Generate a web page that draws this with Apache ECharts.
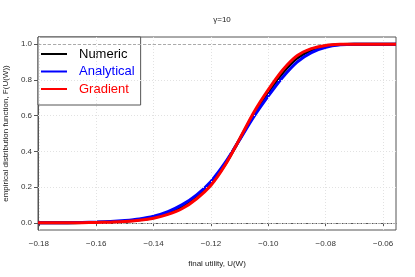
<!DOCTYPE html>
<html>
<head>
<meta charset="utf-8">
<script src="https://cdn.jsdelivr.net/npm/echarts@6/dist/echarts.min.js"></script>
<style>
html,body{margin:0;padding:0;background:#fff;}
#chart{width:415px;height:277px;}
</style>
</head>
<body>
<div id="chart"></div>
<script>
var titleText = "γ=10";
var xTitle = "final utility, U(W)";
var yTitle = "empirical distribution function, F(U(W))";
var xTicks = [-0.18, -0.16, -0.14, -0.12, -0.10, -0.08, -0.06];
var yTicks = [0, 0.2, 0.4, 0.6, 0.8, 1.0];
var refLines = [0, 1];
var utility = [-0.1803, -0.175, -0.17, -0.165, -0.16, -0.155, -0.15, -0.145, -0.14, -0.135, -0.13, -0.125, -0.12, -0.115, -0.11, -0.105, -0.10, -0.095, -0.09, -0.085, -0.08, -0.075, -0.07, -0.065, -0.06, -0.0555];
var numeric =    [0, 0.0003, 0.0007, 0.0013, 0.0027, 0.005, 0.009, 0.017, 0.030, 0.053, 0.088, 0.143, 0.218, 0.330, 0.468, 0.610, 0.732, 0.840, 0.922, 0.967, 0.989, 0.998, 1, 1, 1, 1];
var analytical = [0, 0.0004, 0.001, 0.002, 0.004, 0.007, 0.013, 0.022, 0.037, 0.063, 0.102, 0.157, 0.232, 0.338, 0.465, 0.595, 0.710, 0.815, 0.900, 0.953, 0.982, 0.996, 1, 1, 1, 1];
var gradient =   [0, 0.0002, 0.0005, 0.001, 0.002, 0.004, 0.007, 0.014, 0.026, 0.047, 0.080, 0.135, 0.210, 0.325, 0.470, 0.620, 0.745, 0.855, 0.935, 0.975, 0.993, 0.999, 1, 1, 1, 1];
var seriesNames = ["Numeric", "Analytical", "Gradient"];
var seriesColors = ["#000000", "#0000ff", "#ff0000"];

function pairs(ys){ return utility.map(function(x,i){ return [x, ys[i]]; }); }
var FONT = "Liberation Sans";
var chart = echarts.init(document.getElementById('chart'), null, {renderer:'canvas'});
var gridMarks = [];
xTicks.forEach(function(v){ gridMarks.push({xAxis:v}); });
yTicks.forEach(function(v){ gridMarks.push({yAxis:v}); });
var refMarks = refLines.map(function(v){ return {yAxis:v}; });

var lines = [numeric, analytical, gradient].map(function(d,i){
  return {
    name: seriesNames[i], type:'line', data: pairs(d), showSymbol:false, symbol:'none',
    smooth: 0.3, color: seriesColors[i], lineStyle:{width:3, color: seriesColors[i]}, z: 3+i, animation:false
  };
});

chart.setOption({
  animation:false,
  backgroundColor:'#fff',
  textStyle:{fontFamily:FONT},
  title:{text:titleText, left:217, top:11, textAlign:'center',
    textStyle:{fontSize:8, fontWeight:'normal', color:'#222', fontFamily:FONT}},
  grid:{left:38, top:37, right:19, bottom:47, show:true, borderColor:'#555', borderWidth:1,
    containLabel:false, outerBoundsMode:'none'},
  legend:{
    data: seriesNames.map(function(n,i){ return {name:n, textStyle:{color:seriesColors[i]}}; }),
    orient:'vertical', left:38, top:37, icon:'rect', itemWidth:26, itemHeight:2,
    itemGap:3.5, padding:[10,6,9,3], backgroundColor:'#fff', borderColor:'#555', borderWidth:1,
    textStyle:{fontSize:13, fontFamily:FONT, lineHeight:14, padding:[0,0,0,7]}, selectedMode:false
  },
  xAxis:{
    type:'value', min:-0.1803, max:-0.0555,
    name:xTitle, nameLocation:'middle', nameGap:30,
    nameTextStyle:{fontSize:8, color:'#222', fontFamily:FONT},
    axisLine:{show:true, lineStyle:{color:'#555', width:1}},
    axisTick:{show:true, length:4, lineStyle:{color:'#555'}, customValues:xTicks},
    axisLabel:{fontSize:8, color:'#333', margin:10, customValues:xTicks,
      formatter:function(v){ return (v<0?'\u2212':'') + Math.abs(v).toFixed(2); }},
    splitLine:{show:false}
  },
  yAxis:{
    type:'value', min:-0.04, max:1.04,
    name:yTitle, nameLocation:'middle', nameGap:27,
    nameTextStyle:{fontSize:8, color:'#222', fontFamily:FONT},
    axisLine:{show:true, lineStyle:{color:'#555', width:1}},
    axisTick:{show:true, length:4, lineStyle:{color:'#555'}, customValues:yTicks},
    axisLabel:{fontSize:8, color:'#333', margin:6, customValues:yTicks,
      formatter:function(v){ return v.toFixed(1); }},
    splitLine:{show:false}
  },
  series:[
    {type:'line', data:[], z:1, silent:true, animation:false,
      markLine:{silent:true, symbol:'none', label:{show:false}, animation:false,
        lineStyle:{type:[1,2], color:'#e2e2e2', width:1}, data:gridMarks}},
    {type:'line', data:[], z:2, silent:true, animation:false,
      markLine:{silent:true, symbol:'none', label:{show:false}, animation:false,
        lineStyle:{type:[3,2], color:'#aaaaaa', width:1}, data:refMarks}}
  ].concat(lines)
});
</script>
</body>
</html>
